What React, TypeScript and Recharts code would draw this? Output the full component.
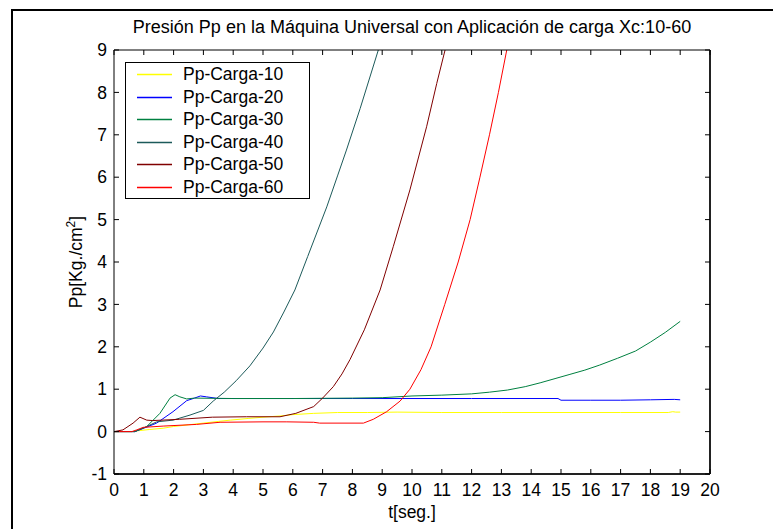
import React from 'react';
import { LineChart, Line, XAxis, YAxis, Legend } from 'recharts';

const FONT = '"Liberation Sans", Arial, Helvetica, sans-serif';

const titleText = 'Presión Pp en la Máquina Universal con Aplicación de carga Xc:10-60';
const xLabelText = 't[seg.]';

const xTicks = [0, 1, 2, 3, 4, 5, 6, 7, 8, 9, 10, 11, 12, 13, 14, 15, 16, 17, 18, 19, 20];
const yTicks = [-1, 0, 1, 2, 3, 4, 5, 6, 7, 8, 9];

const seriesNames = ['Pp-Carga-10', 'Pp-Carga-20', 'Pp-Carga-30', 'Pp-Carga-40', 'Pp-Carga-50', 'Pp-Carga-60'];

// Pp-Carga-10
const carga10T = [0, 0.6, 0.8, 1.2, 1.65, 2.0, 2.5, 3.0, 3.5, 3.9, 4.5, 5.0, 5.6, 6.0, 6.7, 7.5, 8.5, 9.5, 11, 13, 15, 17, 18.6, 18.75, 18.85, 19];
const carga10P = [0, 0, 0.02, 0.05, 0.08, 0.12, 0.16, 0.2, 0.24, 0.27, 0.31, 0.34, 0.37, 0.4, 0.43, 0.45, 0.45, 0.46, 0.45, 0.45, 0.45, 0.45, 0.45, 0.47, 0.46, 0.46];

// Pp-Carga-20
const carga20T = [0, 0.7, 1.0, 1.43, 1.98, 2.44, 2.7, 2.9, 3.1, 3.5, 5, 8, 10, 12, 14.9, 15.0, 16, 17, 18, 18.8, 19];
const carga20P = [0, 0, 0.08, 0.2, 0.47, 0.73, 0.79, 0.84, 0.82, 0.78, 0.78, 0.78, 0.78, 0.78, 0.78, 0.74, 0.74, 0.74, 0.75, 0.76, 0.75];

// Pp-Carga-30
const carga30T = [0, 0.7, 1.1, 1.54, 1.88, 2.05, 2.21, 2.44, 2.7, 4, 6, 8, 9, 10, 11, 12, 12.6, 13.2, 13.8, 14.3, 14.8, 15.3, 15.8, 16.3, 16.9, 17.5, 18, 18.5, 19];
const carga30P = [0, 0, 0.12, 0.43, 0.79, 0.87, 0.82, 0.77, 0.79, 0.78, 0.78, 0.79, 0.8, 0.84, 0.86, 0.89, 0.93, 0.98, 1.06, 1.15, 1.25, 1.35, 1.45, 1.57, 1.73, 1.9, 2.11, 2.34, 2.6];

// Pp-Carga-40
const carga40T = [0, 0.7, 1.1, 1.43, 1.98, 2.55, 3.0, 3.33, 3.7, 4.1, 4.56, 5.0, 5.35, 5.7, 6.07, 6.5, 7.14, 7.5, 7.8, 8.26, 8.87];
const carga40P = [0, 0, 0.12, 0.23, 0.27, 0.39, 0.5, 0.72, 0.93, 1.2, 1.55, 1.97, 2.35, 2.82, 3.34, 4.13, 5.3, 6.03, 6.64, 7.62, 9.0];

// Pp-Carga-50
const carga50T = [0, 0.3, 0.64, 0.87, 1.1, 1.3, 2.2, 3.3, 4.45, 5.57, 6.1, 6.7, 7.0, 7.36, 7.65, 7.92, 8.4, 8.93, 9.37, 9.93, 10.49, 10.83, 11.11];
const carga50P = [0, 0.04, 0.2, 0.34, 0.27, 0.26, 0.29, 0.34, 0.35, 0.35, 0.43, 0.59, 0.79, 1.06, 1.36, 1.7, 2.4, 3.34, 4.36, 5.7, 7.19, 8.21, 9.0];

// Pp-Carga-60
const carga60T = [0, 0.6, 0.76, 0.98, 1.65, 2.77, 3.56, 5.0, 5.8, 6.7, 6.9, 8.37, 8.7, 9.15, 9.6, 9.93, 10.3, 10.64, 11.1, 11.55, 11.95, 12.28, 12.6, 12.9, 13.18];
const carga60P = [0, 0, 0.04, 0.1, 0.13, 0.17, 0.22, 0.23, 0.23, 0.22, 0.2, 0.2, 0.29, 0.47, 0.72, 1.0, 1.46, 2.0, 3.0, 4.0, 5.0, 6.0, 7.0, 8.0, 9.0];

const seriesColors = ['#ffff00', '#0000ff', '#008040', '#1c5a5a', '#800000', '#ff0000'];
const legendRowHeights = [23, 22, 23, 22, 23, 22];

const toPoints = (ts: number[], ps: number[]) => ts.map((t, i) => ({ t, p: ps[i] }));

const seriesData = [
  toPoints(carga10T, carga10P),
  toPoints(carga20T, carga20P),
  toPoints(carga30T, carga30P),
  toPoints(carga40T, carga40P),
  toPoints(carga50T, carga50P),
  toPoints(carga60T, carga60P),
];

const renderLegend = () => (
  <div
    style={{
      border: '1px solid #000',
      background: '#fff',
      width: 183,
      fontFamily: FONT,
      fontSize: 17.5,
      color: '#000',
    }}
  >
    {seriesNames.map((name, i) => (
      <div key={name} style={{ position: 'relative', height: legendRowHeights[i] }}>
        <svg width={60} height={legendRowHeights[i]} style={{ position: 'absolute', left: 0, top: 0 }}>
          <line
            x1={11}
            x2={46}
            y1={Math.floor(legendRowHeights[i] / 2) + 0.5}
            y2={Math.floor(legendRowHeights[i] / 2) + 0.5}
            stroke={seriesColors[i]}
            strokeWidth={1.5}
          />
        </svg>
        <span
          style={{
            position: 'absolute',
            left: 57,
            top: 0,
            lineHeight: `${legendRowHeights[i]}px`,
            whiteSpace: 'nowrap',
          }}
        >
          {name}
        </span>
      </div>
    ))}
  </div>
);

const renderTitle = (props: any) => {
  const vb = props.viewBox || { x: 114, y: 49, width: 596, height: 1 };
  return (
    <text x={vb.x + vb.width / 2} y={33} textAnchor="middle" fill="#000" fontSize={18} fontFamily={FONT}>
      {titleText}
    </text>
  );
};

const renderXLabel = (props: any) => {
  const vb = props.viewBox || { x: 114, y: 474, width: 596, height: 55 };
  return (
    <text x={vb.x + vb.width / 2} y={vb.y + 44} textAnchor="middle" fill="#000" fontSize={17.5} fontFamily={FONT}>
      {xLabelText}
    </text>
  );
};

const renderYLabel = (props: any) => {
  const vb = props.viewBox || { x: 0, y: 50, width: 114, height: 424 };
  const cx = 82;
  const cy = vb.y + vb.height / 2;
  return (
    <text
      x={cx}
      y={cy}
      transform={`rotate(-90 ${cx} ${cy})`}
      textAnchor="middle"
      fill="#000"
      fontSize={17.5}
      fontFamily={FONT}
    >
      <tspan>Pp[Kg./cm</tspan>
      <tspan dy={-7} fontSize={12}>2</tspan>
      <tspan dy={7}>]</tspan>
    </text>
  );
};

const TICK_LEN = 5;
const X_MARGIN = 10;
const Y_MARGIN = 7;

const BottomTick = (props: any) => {
  const { x, y, payload } = props;
  const axisY = y - X_MARGIN;
  return (
    <g>
      <line x1={x} x2={x} y1={axisY} y2={axisY - TICK_LEN} stroke="#000" strokeWidth={1} />
      <text x={x} y={y} dy="0.71em" textAnchor="middle" fill="#000" fontSize={17.5} fontFamily={FONT}>
        {payload.value}
      </text>
    </g>
  );
};

const LeftTick = (props: any) => {
  const { x, y, payload } = props;
  const axisX = x + Y_MARGIN;
  return (
    <g>
      <line x1={axisX} x2={axisX + TICK_LEN} y1={y} y2={y} stroke="#000" strokeWidth={1} />
      <text x={x} y={y} dy="0.355em" textAnchor="end" fill="#000" fontSize={17.5} fontFamily={FONT}>
        {payload.value}
      </text>
    </g>
  );
};

const TopTick = (props: any) => {
  const { x, y } = props;
  return <line x1={x} x2={x} y1={y} y2={y + TICK_LEN} stroke="#000" strokeWidth={1} />;
};

const RightTick = (props: any) => {
  const { x, y } = props;
  return <line x1={x} x2={x - TICK_LEN} y1={y} y2={y} stroke="#000" strokeWidth={1} />;
};

export default function App() {
  return (
    <div style={{ position: 'absolute', left: 0, top: 0, width: 773, height: 529, background: '#fff', overflow: 'hidden' }}>
      <div
        style={{
          position: 'absolute',
          left: 11,
          top: 9,
          width: 800,
          height: 600,
          borderLeft: '2px solid #000',
          borderTop: '2px solid #000',
        }}
      />
      <LineChart width={773} height={529} margin={{ top: 49, right: 62, bottom: 0, left: 0 }}>
        <XAxis
          xAxisId="b"
          dataKey="t"
          type="number"
          domain={[0, 20]}
          ticks={xTicks}
          interval={0}
          allowDataOverflow
          height={55}
          tickSize={0}
          tickMargin={X_MARGIN}
          axisLine={{ stroke: '#222', strokeWidth: 2 }}
          tickLine={false}
          tick={BottomTick}
          label={renderXLabel}
        />
        <XAxis
          xAxisId="t"
          orientation="top"
          dataKey="t"
          type="number"
          domain={[0, 20]}
          ticks={xTicks}
          interval={0}
          allowDataOverflow
          height={1}
          tickSize={0}
          tickMargin={0}
          axisLine={{ stroke: '#000' }}
          tickLine={false}
          tick={TopTick}
          label={renderTitle}
        />
        <YAxis
          yAxisId="l"
          type="number"
          domain={[-1, 9]}
          ticks={yTicks}
          interval={0}
          allowDataOverflow
          width={114}
          tickSize={0}
          tickMargin={Y_MARGIN}
          axisLine={{ stroke: '#000' }}
          tickLine={false}
          tick={LeftTick}
          label={renderYLabel}
        />
        <YAxis
          yAxisId="r"
          orientation="right"
          type="number"
          domain={[-1, 9]}
          ticks={yTicks}
          interval={0}
          allowDataOverflow
          width={1}
          tickSize={0}
          tickMargin={0}
          axisLine={{ stroke: '#222', strokeWidth: 2 }}
          tickLine={false}
          tick={RightTick}
        />
        <Legend
          content={renderLegend}
          layout="horizontal"
          verticalAlign="middle"
          align="center"
          wrapperStyle={{ left: 125, top: 62, width: 'auto', height: 'auto' }}
        />
        {seriesData.map((d, i) => (
          <Line
            key={seriesNames[i]}
            xAxisId="b"
            yAxisId="l"
            data={d}
            dataKey="p"
            name={seriesNames[i]}
            type="linear"
            stroke={seriesColors[i]}
            strokeWidth={1}
            dot={false}
            activeDot={false}
            isAnimationActive={false}
          />
        ))}
      </LineChart>
    </div>
  );
}
